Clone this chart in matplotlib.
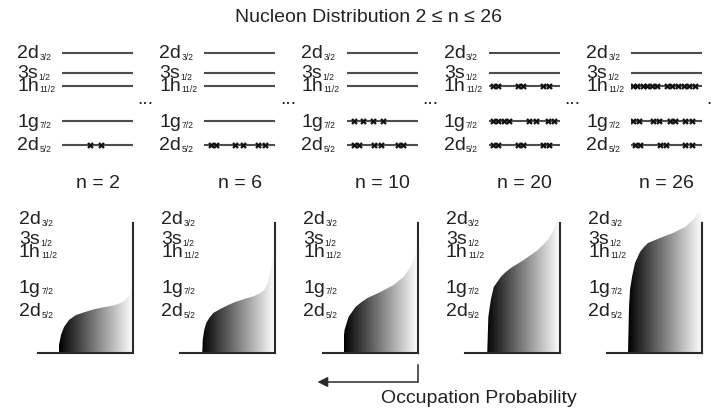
import numpy as np
import matplotlib
matplotlib.use("Agg")
import matplotlib.pyplot as plt
from matplotlib.patches import Polygon, FancyArrowPatch
from matplotlib.lines import Line2D

plt.rcParams["font.family"] = ["Liberation Sans", "DejaVu Sans"]

W, H, DPI = 712, 411, 100

# ---------------- data ----------------
n_values = [2, 6, 10, 20, 26]
level_main = ["2d", "1g", "1h", "3s", "2d"]
level_sub = ["5/2", "7/2", "11/2", "1/2", "3/2"]
level_energy = [0.0, 23.5, 59.0, 72.0, 92.0]   # relative level energies (arb. units)

# nucleon positions on each level line (fraction along the line), per level
electrons_n2 = [[0.39, 0.55], [], [], [], []]
electrons_n6 = [[0.10, 0.17, 0.44, 0.54, 0.76, 0.85], [], [], [], []]
electrons_n10 = [[0.10, 0.17, 0.39, 0.48, 0.72, 0.80],
                 [0.10, 0.23, 0.37, 0.51], [], [], []]
electrons_n20 = [[0.06, 0.13, 0.41, 0.48, 0.76, 0.85],
                 [0.06, 0.13, 0.21, 0.28, 0.56, 0.66, 0.83, 0.92],
                 [0.06, 0.13, 0.41, 0.48, 0.76, 0.85], [], []]
electrons_n26 = [[0.06, 0.13, 0.41, 0.49, 0.76, 0.86],
                 [0.03, 0.11, 0.31, 0.39, 0.55, 0.62, 0.76, 0.86],
                 [0.03, 0.09, 0.17, 0.23, 0.30, 0.37, 0.50, 0.58, 0.66, 0.74, 0.81, 0.90],
                 [], []]

# occupation probability vs energy (curves of the lower panels)
energy_n2 = [-42, -34, -24, -16, -9, -4, -1, 2, 4, 6, 9, 14, 21, 28]
prob_n2 = [1.0, 1.0, 0.973, 0.932, 0.865, 0.770, 0.649, 0.514, 0.378, 0.243, 0.135, 0.068, 0.027, 0.0]
energy_n6 = [-42, -29, -19, -12, -7, -2, 2, 6, 9, 11, 15, 18, 21, 27, 34, 44, 54, 61]
prob_n6 = [0.986, 0.98, 0.96, 0.932, 0.892, 0.838, 0.743, 0.635, 0.541, 0.459, 0.284, 0.203,
           0.149, 0.108, 0.081, 0.054, 0.027, 0.0]
energy_n10 = [-42, -29, -19, -6, 4, 9, 13, 19, 26, 34, 44, 56, 63]
prob_n10 = [1.0, 1.0, 0.986, 0.932, 0.838, 0.757, 0.676, 0.5, 0.324, 0.189, 0.095, 0.027, 0.0]
energy_n20 = [-42, -6, 11, 24, 34, 39, 43, 51, 61, 71, 81, 93, 98]
prob_n20 = [0.98, 0.965, 0.932, 0.892, 0.797, 0.730, 0.662, 0.486, 0.297, 0.162, 0.081, 0.027, 0.0]
energy_n26 = [-42, 4, 21, 34, 48, 59, 64, 68, 73, 78, 84, 91, 98, 100]
prob_n26 = [1.0, 0.986, 0.973, 0.946, 0.905, 0.838, 0.784, 0.730, 0.568, 0.392, 0.230, 0.122,
            0.054, 0.0]

electrons = [electrons_n2, electrons_n6, electrons_n10, electrons_n20, electrons_n26]
curves = [(energy_n2, prob_n2), (energy_n6, prob_n6), (energy_n10, prob_n10),
          (energy_n20, prob_n20), (energy_n26, prob_n26)]

title = "Nucleon Distribution 2 \u2264 n \u2264 26"
xlabel = "Occupation Probability"

# ---------------- layout ----------------
TXT = "#222222"
LVL = "#4d4d4d"
AXC = "#2a2a2a"
LINE_LEN = 71
STEP = 142.25
LEFT0 = 62
TOP_REF = 145      # pixel row of lowest level (top row)
BOT_REF = 311      # pixel row of lowest level (bottom row)
BASE_Y = 353       # pixel row of baseline in bottom row
AX_TOP_Y = 223     # pixel row of top of vertical axis
PX = 0.72          # points per pixel


def rect(x0, y0, x1, y1):
    return [x0 / W, 1 - y1 / H, (x1 - x0) / W, (y1 - y0) / H]


fig = plt.figure(figsize=(W / DPI, H / DPI), dpi=DPI)


def level_label(ax, off_px):
    for name, sub, e in zip(level_main, level_sub, level_energy):
        t = ax.annotate(name, xy=(0, e), xycoords=ax.get_yaxis_transform(),
                        xytext=(off_px * PX, -0.5), textcoords="offset points",
                        ha="left", va="center", fontsize=14, color=TXT,
                        annotation_clip=False)
        ax.annotate(sub, xy=(1, 0), xycoords=t, xytext=(0.3, 0.5),
                    textcoords="offset points", ha="left", va="bottom",
                    fontsize=6.2, color=TXT, annotation_clip=False)


for i, n in enumerate(n_values):
    L = LEFT0 + STEP * i
    R = L + LINE_LEN

    # ----- top row: level scheme -----
    ax = fig.add_axes(rect(L, 40, R, 195))
    ax.set_xlim(0, 1)
    ax.set_ylim(TOP_REF - 195, TOP_REF - 40)
    ax.axis("off")
    for e, xs in zip(level_energy, electrons[i]):
        ax.plot([0, 1], [e, e], color=LVL, lw=1.5, solid_capstyle="butt", zorder=2)
        if xs:
            ax.plot(xs, [e] * len(xs), linestyle="none", marker="x", ms=3.6,
                    mew=1.6, color="#111111", zorder=3)
    level_label(ax, -45)
    ax.text(0.5, TOP_REF - 183, f"n = {n}", ha="center", va="center",
            fontsize=14, color=TXT, clip_on=False)
    ax.annotate("...", xy=(1, TOP_REF - 104.5), xytext=(4.5 * PX, 0),
                textcoords="offset points", ha="left", va="baseline",
                fontsize=14, color=TXT, annotation_clip=False)

    # ----- bottom row: occupation probability -----
    bx = fig.add_axes(rect(R - 95, 195, R, BASE_Y))
    e_base = BOT_REF - BASE_Y
    e_top = BOT_REF - 195
    pmax = 95 / 74
    E, P = curves[i]
    grad = np.linspace(0, 1, 256).reshape(1, -1)
    im = bx.imshow(grad, cmap="gray", vmin=0, vmax=1.0,
                   extent=[1, 0, e_base, e_top], aspect="auto",
                   interpolation="bilinear", zorder=1)
    poly = Polygon(np.column_stack([list(P) + [0], list(E) + [e_base]]),
                   closed=True, facecolor="none", edgecolor="none")
    bx.add_patch(poly)
    im.set_clip_path(poly)
    bx.set_xlim(pmax, 0)
    bx.set_ylim(e_base, e_top)
    bx.set_xticks([])
    bx.set_yticks([])
    for s in ("top", "left"):
        bx.spines[s].set_visible(False)
    for s in ("right", "bottom"):
        bx.spines[s].set_color(AXC)
        bx.spines[s].set_linewidth(1.5)
    bx.spines["right"].set_bounds(e_base, BOT_REF - AX_TOP_Y)
    bx.patch.set_visible(False)
    level_label(bx, -19)

# title & x label
fig.text(368 / W, 1 - 18 / H, title, ha="center", va="center", fontsize=14, color=TXT)
fig.text(479 / W, 1 - 398 / H, xlabel, ha="center", va="center", fontsize=14, color=TXT)

# arrow under the third panel
ax_x = LEFT0 + STEP * 2 + LINE_LEN
fig.add_artist(Line2D([ax_x / W, ax_x / W], [1 - 365 / H, 1 - 382 / H],
                      transform=fig.transFigure, color=AXC, lw=1.1))
fig.add_artist(FancyArrowPatch((ax_x / W, 1 - 382 / H), ((ax_x - 100) / W, 1 - 382 / H),
                               transform=fig.transFigure, arrowstyle="-|>",
                               mutation_scale=15, lw=1.1, color=AXC,
                               shrinkA=0, shrinkB=0))

fig.savefig("out.png", dpi=DPI)
